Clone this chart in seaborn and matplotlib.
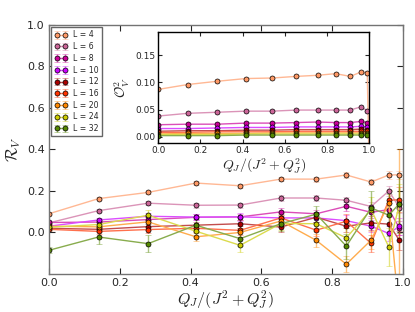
import matplotlib
matplotlib.use('Agg')
import matplotlib.pyplot as plt
import matplotlib.colors as mcolors
import seaborn as sns

sns.set_style('ticks', {'xtick.direction': 'in', 'ytick.direction': 'in'})
plt.rcParams['font.family'] = ['DejaVu Sans']
plt.rcParams['mathtext.fontset'] = 'cm'

# x positions Q_J/(J^2+Q_J^2)
x = [0.0, 0.14, 0.28, 0.415, 0.54, 0.655, 0.755, 0.84, 0.91, 0.96, 0.99]
sizes = [4, 6, 8, 10, 12, 16, 20, 24, 32]
colors = ['#FF9966', '#CC6699', '#CC0099', '#CC00FF', '#AA0000',
          '#FF3300', '#FF8800', '#CCCC00', '#558800']

# main panel: R_V
r4 = [0.09, 0.163, 0.193, 0.238, 0.225, 0.257, 0.257, 0.277, 0.243, 0.277, 0.278]
r6 = [0.046, 0.105, 0.141, 0.131, 0.132, 0.166, 0.166, 0.155, 0.125, 0.20, 0.12]
r8 = [0.048, 0.05, 0.062, 0.073, 0.075, 0.099, 0.09, 0.126, 0.097, 0.11, 0.022]
r10 = [0.03, 0.06, 0.078, 0.074, 0.075, 0.07, 0.07, 0.057, 0.03, -0.005, 0.03]
r12 = [0.02, 0.015, 0.028, 0.035, 0.042, 0.026, 0.073, 0.03, 0.046, 0.04, -0.038]
r16 = [0.015, 0.005, 0.014, 0.02, 0.01, 0.07, 0.011, 0.054, -0.053, 0.155, 0.158]
r20 = [0.03, 0.027, 0.051, -0.021, 0.0, 0.055, -0.038, -0.153, -0.037, 0.14, -0.4]
r24 = [0.025, 0.038, 0.083, 0.006, -0.062, 0.043, 0.042, -0.026, 0.11, -0.07, 0.135]
r32 = [-0.086, -0.022, -0.054, 0.035, -0.03, 0.042, 0.088, -0.066, 0.118, 0.083, 0.139]

e4 = [0.005, 0.006, 0.007, 0.008, 0.009, 0.01, 0.012, 0.013, 0.015, 0.018, 0.02]
e6 = [0.006, 0.008, 0.009, 0.011, 0.012, 0.014, 0.015, 0.017, 0.02, 0.025, 0.028]
e8 = [0.007, 0.01, 0.012, 0.014, 0.015, 0.017, 0.019, 0.022, 0.026, 0.03, 0.035]
e10 = [0.008, 0.012, 0.014, 0.016, 0.018, 0.02, 0.022, 0.026, 0.03, 0.036, 0.04]
e12 = [0.008, 0.012, 0.015, 0.017, 0.019, 0.022, 0.025, 0.03, 0.035, 0.04, 0.045]
e16 = [0.01, 0.014, 0.016, 0.018, 0.02, 0.024, 0.028, 0.034, 0.04, 0.05, 0.06]
e20 = [0.011, 0.015, 0.018, 0.02, 0.023, 0.027, 0.032, 0.038, 0.045, 0.06, 0.8]
e24 = [0.012, 0.018, 0.025, 0.025, 0.03, 0.03, 0.035, 0.045, 0.06, 0.09, 0.1]
e32 = [0.015, 0.035, 0.04, 0.03, 0.035, 0.035, 0.04, 0.06, 0.08, 0.1, 0.14]

# inset: O_V^2 (L=4 has one extra point at x=1.0)
x_in = x + [1.0]
o4 = [0.087, 0.096, 0.102, 0.107, 0.108, 0.111, 0.113, 0.116, 0.111, 0.119, 0.118, -0.08]
o6 = [0.038, 0.043, 0.045, 0.047, 0.047, 0.049, 0.049, 0.049, 0.049, 0.055, 0.048]
o8 = [0.022, 0.023, 0.023, 0.025, 0.025, 0.026, 0.027, 0.026, 0.026, 0.028, 0.026]
o10 = [0.015, 0.015, 0.016, 0.017, 0.017, 0.018, 0.018, 0.018, 0.018, 0.019, 0.018]
o12 = [0.010, 0.011, 0.011, 0.012, 0.012, 0.013, 0.013, 0.013, 0.013, 0.014, 0.013]
o16 = [0.008, 0.008, 0.009, 0.009, 0.009, 0.010, 0.010, 0.010, 0.010, 0.010, 0.010]
o20 = [0.005, 0.006, 0.006, 0.006, 0.007, 0.007, 0.007, 0.007, 0.007, 0.007, 0.007]
o24 = [0.004, 0.004, 0.004, 0.005, 0.005, 0.005, 0.005, 0.005, 0.005, 0.005, 0.005]
o32 = [0.002, 0.002, 0.002, 0.003, 0.003, 0.003, 0.003, 0.003, 0.003, 0.003, 0.003]

r_all = [r4, r6, r8, r10, r12, r16, r20, r24, r32]
e_all = [e4, e6, e8, e10, e12, e16, e20, e24, e32]
o_all = [o4, o6, o8, o10, o12, o16, o20, o24, o32]


def lighter(c, f=0.3):
    rgb = mcolors.to_rgb(c)
    return tuple(v + (1 - v) * f for v in rgb)


fig = plt.figure(figsize=(4.15, 3.12), dpi=100)
ax = fig.add_axes([0.118, 0.122, 0.853, 0.798])

for L, r, e, c in zip(sizes, r_all, e_all, colors):
    ax.errorbar(x, r, yerr=e, fmt='-o', color=lighter(c), mfc=c, mec='k', mew=0.5,
                ms=3.6, lw=1, ecolor=mcolors.to_rgba(c, 0.5), elinewidth=1,
                capsize=2, label=f'L = {L}')

ax.set_xlim(0, 1)
ax.set_ylim(-0.2, 1.0)
ax.set_xticks([0, 0.2, 0.4, 0.6, 0.8, 1.0])
ax.set_yticks([0, 0.2, 0.4, 0.6, 0.8, 1.0])
ax.tick_params(direction='in', top=True, right=True, length=4, labelsize=8, pad=3)
for s in ax.spines.values():
    s.set_color('0.45')
    s.set_linewidth(1)
ax.set_xlabel(r'$Q_J/(J^2+Q_J^2)$', fontsize=11.5, labelpad=0)
ax.set_ylabel(r'$\mathcal{R}_V$', fontsize=12, labelpad=3)

ax.legend(loc='upper left', fontsize=5.6, numpoints=2, handlelength=1.6,
          labelspacing=0.35, borderpad=0.4, borderaxespad=0.3, fancybox=False,
          edgecolor='0.4', framealpha=1)

# inset
axin = fig.add_axes([0.381, 0.541, 0.509, 0.357])
for L, o, c in zip(sizes, o_all, colors):
    sns.lineplot(x=x_in[:len(o)], y=o, ax=axin, color=lighter(c), marker='o',
                 markerfacecolor=c, markeredgecolor='k', markeredgewidth=0.5,
                 markersize=3.6, linewidth=1, sort=False)

axin.set_xlim(0, 1)
axin.set_ylim(-0.012, 0.193)
axin.set_xticks([0, 0.2, 0.4, 0.6, 0.8, 1.0])
axin.set_yticks([0, 0.05, 0.10, 0.15])
axin.set_yticklabels(['0.00', '0.05', '0.10', '0.15'])
axin.tick_params(direction='in', top=True, right=True, length=3, labelsize=6.5, pad=2)
for s in axin.spines.values():
    s.set_color('k')
    s.set_linewidth(1)
axin.set_xlabel(r'$Q_J/(J^2+Q_J^2)$', fontsize=10, labelpad=1)
axin.set_ylabel(r'$\mathcal{O}_V^2$', fontsize=10, labelpad=2)

fig.savefig('out.png', dpi=100)
